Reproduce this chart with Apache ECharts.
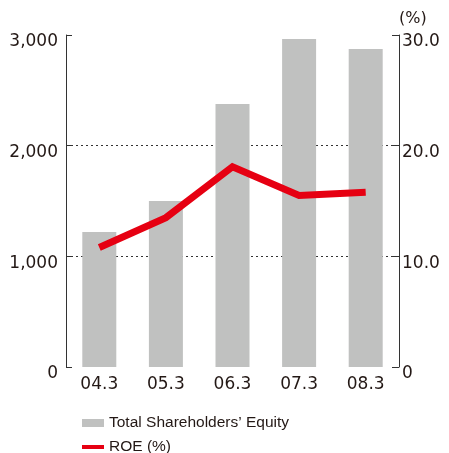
<!DOCTYPE html>
<html>
<head>
<meta charset="utf-8">
<script src="https://cdn.jsdelivr.net/npm/echarts@6/dist/echarts.min.js"></script>
<style>
  html, body { margin: 0; padding: 0; background: #fff; }
  #main { width: 449px; height: 453px; }
</style>
</head>
<body>
<div id="main"></div>
<script>
// 年度（3月期）
var categories = ['04.3', '05.3', '06.3', '07.3', '08.3'];
// 株主資本合計
var equityData = [1220, 1500, 2376, 2963, 2873];
// ROE (%)
var roeData = [10.8, 13.5, 18.1, 15.5, 15.8];

var textColor = '#231815';
var axisFont = 'DejaVu Sans';
var legendFont = 'Liberation Sans';

var myChart = echarts.init(document.getElementById('main'));

myChart.setOption({
    animation: false,
    backgroundColor: '#fff',
    grid: {
        left: 66,
        right: 50,
        top: 35,
        bottom: 86
    },
    legend: {
        orient: 'vertical',
        left: 77,
        top: 410,
        height: 60,
        itemWidth: 22,
        itemHeight: 8,
        itemGap: 8,
        textStyle: {
            color: textColor,
            fontFamily: legendFont,
            fontSize: 15.5
        },
        data: [
            { name: 'Total Shareholders’ Equity', icon: 'rect' },
            {
                name: 'ROE (%)',
                icon: 'path://M0,0L22,0L22,4L0,4Z',
                itemStyle: { color: '#e60012' },
                lineStyle: { width: 4, color: '#e60012' }
            }
        ]
    },
    xAxis: {
        type: 'category',
        data: categories,
        axisLine: { show: false },
        axisTick: { show: false },
        axisLabel: {
            color: textColor,
            fontFamily: axisFont,
            fontSize: 17,
            margin: 9
        }
    },
    yAxis: [{
        type: 'value',
        min: 0,
        max: 3000,
        interval: 1000,
        position: 'left',
        axisLine: { show: true, lineStyle: { color: '#333', width: 1 } },
        axisTick: { show: true, inside: true, length: 6, lineStyle: { color: '#333' } },
        axisLabel: {
            color: textColor,
            fontFamily: axisFont,
            fontSize: 17,
            margin: 8,
            verticalAlign: 'top',
            lineHeight: 14,
            formatter: function (v) {
                return v === 0 ? '0' : v.toLocaleString('en-US');
            }
        },
        splitLine: {
            show: true,
            showMinLine: false,
            showMaxLine: false,
            lineStyle: { color: '#333', type: [2, 3], width: 1 }
        }
    }, {
        type: 'value',
        min: 0,
        max: 30,
        interval: 10,
        position: 'right',
        name: '(%)',
        nameLocation: 'end',
        nameGap: 8,
        nameTextStyle: {
            color: textColor,
            fontFamily: axisFont,
            fontSize: 16,
            align: 'left',
            verticalAlign: 'bottom'
        },
        axisLine: { show: true, lineStyle: { color: '#333', width: 1 } },
        axisTick: { show: true, inside: true, length: 7, lineStyle: { color: '#333' } },
        axisLabel: {
            color: textColor,
            fontFamily: axisFont,
            fontSize: 17,
            margin: 3,
            verticalAlign: 'top',
            lineHeight: 14,
            formatter: function (v) {
                return v === 0 ? '0' : v.toFixed(1);
            }
        },
        splitLine: { show: false }
    }],
    series: [{
        name: 'Total Shareholders’ Equity',
        type: 'bar',
        yAxisIndex: 0,
        barWidth: 34,
        itemStyle: { color: '#c0c1c0' },
        data: equityData
    }, {
        name: 'ROE (%)',
        type: 'line',
        yAxisIndex: 1,
        symbol: 'none',
        lineStyle: { color: '#e60012', width: 7, join: 'miter' },
        itemStyle: { color: '#e60012' },
        data: roeData
    }]
});
</script>
</body>
</html>
